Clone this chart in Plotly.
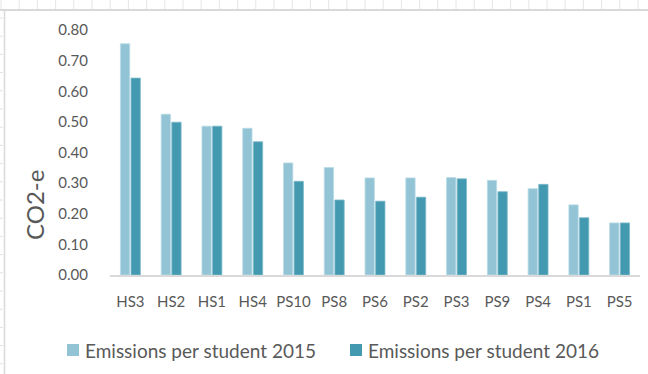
import plotly.graph_objects as go

# School sites and per-student emissions (t CO2-e)
schools = ["HS3", "HS2", "HS1", "HS4", "PS10", "PS8", "PS6", "PS2", "PS3", "PS9", "PS4", "PS1", "PS5"]
emissions_2015 = [0.755, 0.525, 0.486, 0.479, 0.366, 0.351, 0.317, 0.317, 0.318, 0.309, 0.282, 0.229, 0.170]
emissions_2016 = [0.643, 0.499, 0.486, 0.435, 0.306, 0.245, 0.241, 0.254, 0.314, 0.272, 0.296, 0.187, 0.170]
series_names = ["Emissions per student 2015", "Emissions per student 2016"]
y_ticks = [0.0, 0.1, 0.2, 0.3, 0.4, 0.5, 0.6, 0.7, 0.8]

W, H = 648, 374
L, R, T, B = 110, 8, 30, 99
FONT = "Lato, 'Open Sans', sans-serif"
TEXT = "#595959"
COLORS = ["#93C4D5", "#4399AF"]
EDGES = ["#B9DCE7", "#7DBACB"]

# pixel -> paper coordinate helpers
pw, ph = W - L - R, H - T - B
px_x = lambda p: (p - L) / pw
px_y = lambda p: (H - B - p) / ph

fig = go.Figure()
for name, vals, c, e in zip(series_names, [emissions_2015, emissions_2016], COLORS, EDGES):
    fig.add_trace(go.Bar(x=schools, y=vals, name=name,
                         marker=dict(color=c, line=dict(color=e, width=0.8))))

# Spreadsheet backdrop around the chart object: header strip and row gutter
shapes = []
col = 1.0
while col < W:
    shapes.append(dict(type="line", xref="paper", yref="paper",
                       x0=px_x(col), x1=px_x(col), y0=px_y(0), y1=px_y(9),
                       line=dict(color="#E6E6E6", width=1)))
    col += 18.2
row = 18.0
while row < H:
    shapes.append(dict(type="line", xref="paper", yref="paper",
                       x0=px_x(0), x1=px_x(3), y0=px_y(row), y1=px_y(row),
                       line=dict(color="#E2E2E2", width=1)))
    row += 18.2
shapes.append(dict(type="line", xref="paper", yref="paper",
                   x0=px_x(0), x1=px_x(W), y0=px_y(10), y1=px_y(10),
                   line=dict(color="#D9D9D9", width=2)))
shapes.append(dict(type="line", xref="paper", yref="paper",
                   x0=px_x(4.5), x1=px_x(4.5), y0=px_y(10), y1=px_y(H),
                   line=dict(color="#D9D9D9", width=1.5)))

annotations = [dict(text="CO2-e", xref="paper", yref="paper", x=px_x(34), y=px_y(205),
                    textangle=-90, showarrow=False, xanchor="center", yanchor="middle",
                    font=dict(size=24, color=TEXT, family=FONT))]

# Legend row below the axis
legend_x = [67, 350]
for name, c, x0 in zip(series_names, COLORS, legend_x):
    shapes.append(dict(type="rect", xref="paper", yref="paper",
                       x0=px_x(x0), x1=px_x(x0 + 12), y0=px_y(356), y1=px_y(344),
                       fillcolor=c, line_width=0))
    annotations.append(dict(text=name, xref="paper", yref="paper", x=px_x(x0 + 16), y=px_y(350),
                            xanchor="left", yanchor="middle", showarrow=False,
                            font=dict(size=19, color=TEXT, family=FONT)))

fig.update_layout(
    width=W, height=H,
    margin=dict(l=L, r=R, t=T, b=B),
    paper_bgcolor="#FFFFFF", plot_bgcolor="#FFFFFF",
    font=dict(family=FONT, color=TEXT),
    barmode="group", bargap=0.48, bargroupgap=0.12,
    showlegend=False,
    shapes=shapes,
    annotations=annotations,
)
fig.update_xaxes(
    showline=True, linecolor="#D9D9D9", linewidth=2, showgrid=False,
    ticks="outside", ticklen=12, tickcolor="rgba(0,0,0,0)",
    tickfont=dict(size=15, color=TEXT, family=FONT),
)
fig.update_yaxes(
    range=[0, 0.8], tickvals=y_ticks, tickformat=".2f", showgrid=False, zeroline=False,
    showline=False, ticks="outside", ticklen=18, tickcolor="rgba(0,0,0,0)",
    tickfont=dict(size=15, color=TEXT, family=FONT),
)

fig.write_html("out.html")
